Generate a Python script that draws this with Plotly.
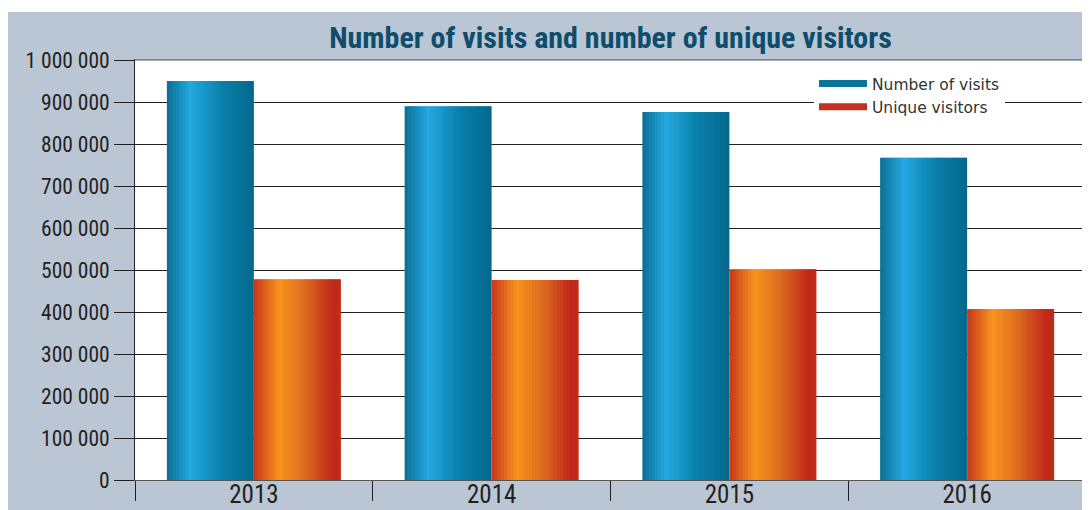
import plotly.graph_objects as go

# ---------------- data ----------------
years = ["2013", "2014", "2015", "2016"]
visits = [950000, 890000, 876000, 767000]
unique_visitors = [478000, 476000, 502000, 407000]
series_names = ["Number of visits", "Unique visitors"]
title_text = "Number of visits and number of unique visitors"

# ---------------- style ----------------
BAR_W = 0.366          # width of one bar in category units
N_SLICES = 28          # slices used to imitate the cylindrical gradient
blue_stops = [(0.0, "#0b6e93"), (0.27, "#24a9e1"), (0.62, "#0a80ab"), (1.0, "#05688b")]
orange_stops = [(0.0, "#c8361b"), (0.29, "#f7941d"), (0.6, "#dc6a1f"), (0.9, "#c0281a"), (1.0, "#c22b1b")]
legend_colors = ["#0b7299", "#c3301c"]
BG = "#bac6d4"
DARK = "#231f20"
NARROW = "Liberation Sans Narrow, Arial Narrow, Roboto Condensed, Liberation Sans, sans-serif"


def hex2rgb(h):
    h = h.lstrip("#")
    return tuple(int(h[i:i + 2], 16) for i in (0, 2, 4))


def interp(stops, t):
    for (t0, c0), (t1, c1) in zip(stops[:-1], stops[1:]):
        if t0 <= t <= t1:
            f = (t - t0) / (t1 - t0) if t1 > t0 else 0
            a, b = hex2rgb(c0), hex2rgb(c1)
            r = [round(a[k] + (b[k] - a[k]) * f) for k in range(3)]
            return "rgb({},{},{})".format(*r)
    return stops[-1][1]


fig = go.Figure()

step = BAR_W / N_SLICES
for values, stops, base in [(visits, blue_stops, -BAR_W), (unique_visitors, orange_stops, 0.0)]:
    for i in range(N_SLICES):
        t = (i + 0.5) / N_SLICES
        w = step * 1.6 if i < N_SLICES - 1 else step
        fig.add_trace(go.Bar(
            x=years, y=values,
            offset=base + i * step, width=w,
            marker=dict(color=interp(stops, t), line=dict(width=0)),
            showlegend=False, hoverinfo="skip",
        ))

for name, col in zip(series_names, legend_colors):
    fig.add_trace(go.Scatter(x=[None], y=[None], mode="lines", name=name,
                             line=dict(color=col, width=7)))

W, H = 1082, 502
L, R, T, B = 127, 4, 52, 30
PW, PH = W - L - R, H - T - B

fig.update_layout(
    width=W, height=H,
    margin=dict(l=L, r=R, t=T, b=B, pad=0, autoexpand=False),
    paper_bgcolor=BG, plot_bgcolor="white",
    barmode="overlay",
    separators=". ",
    title=dict(text=title_text, x=0.5, xref="paper", xanchor="center",
               y=1 - 29 / H, yanchor="middle",
               font=dict(family=NARROW, size=30, color="#0e4d6b", weight="bold")),
    legend=dict(x=(806 - L) / PW, y=(H - B - 59) / PH, xanchor="left", yanchor="top",
                bgcolor="white", borderwidth=0,
                font=dict(family="DejaVu Sans, Liberation Sans, sans-serif", size=15.5, color="#333333"),
                itemwidth=48, tracegroupgap=0),
    xaxis=dict(type="category", range=[-0.5, 3.5], tickson="boundaries",
               ticks="outside", ticklen=20, tickcolor=DARK, tickwidth=1,
               showline=True, linecolor="#555555", linewidth=1, mirror=True,
               showgrid=False, ticklabelstandoff=-8, automargin=False,
               tickfont=dict(family=NARROW, size=25, color=DARK)),
    yaxis=dict(range=[0, 1000000], tick0=0, dtick=100000, tickformat=",d",
               ticks="outside", ticklen=20, tickcolor=DARK, tickwidth=1,
               showline=True, linecolor=DARK, linewidth=1, mirror=False,
               showgrid=True, gridcolor=DARK, gridwidth=1,
               zeroline=False, automargin=False,
               tickfont=dict(family=NARROW, size=21.5, color=DARK)),
    shapes=[
        dict(type="rect", xref="paper", yref="paper",
             x0=-L / PW - 0.02, x1=1 + R / PW + 0.02,
             y0=1 + (T - 4) / PH, y1=1 + T / PH + 0.02,
             fillcolor="white", line=dict(width=0), layer="above"),
        dict(type="line", xref="paper", yref="paper", x0=0, x1=1, y0=1, y1=1,
             line=dict(color="#8d939c", width=1.5), layer="above"),
        dict(type="line", xref="paper", yref="paper", x0=1, x1=1, y0=0, y1=1,
             line=dict(color="#555555", width=1.5), layer="above"),
    ],
)

fig.write_html("out.html")
